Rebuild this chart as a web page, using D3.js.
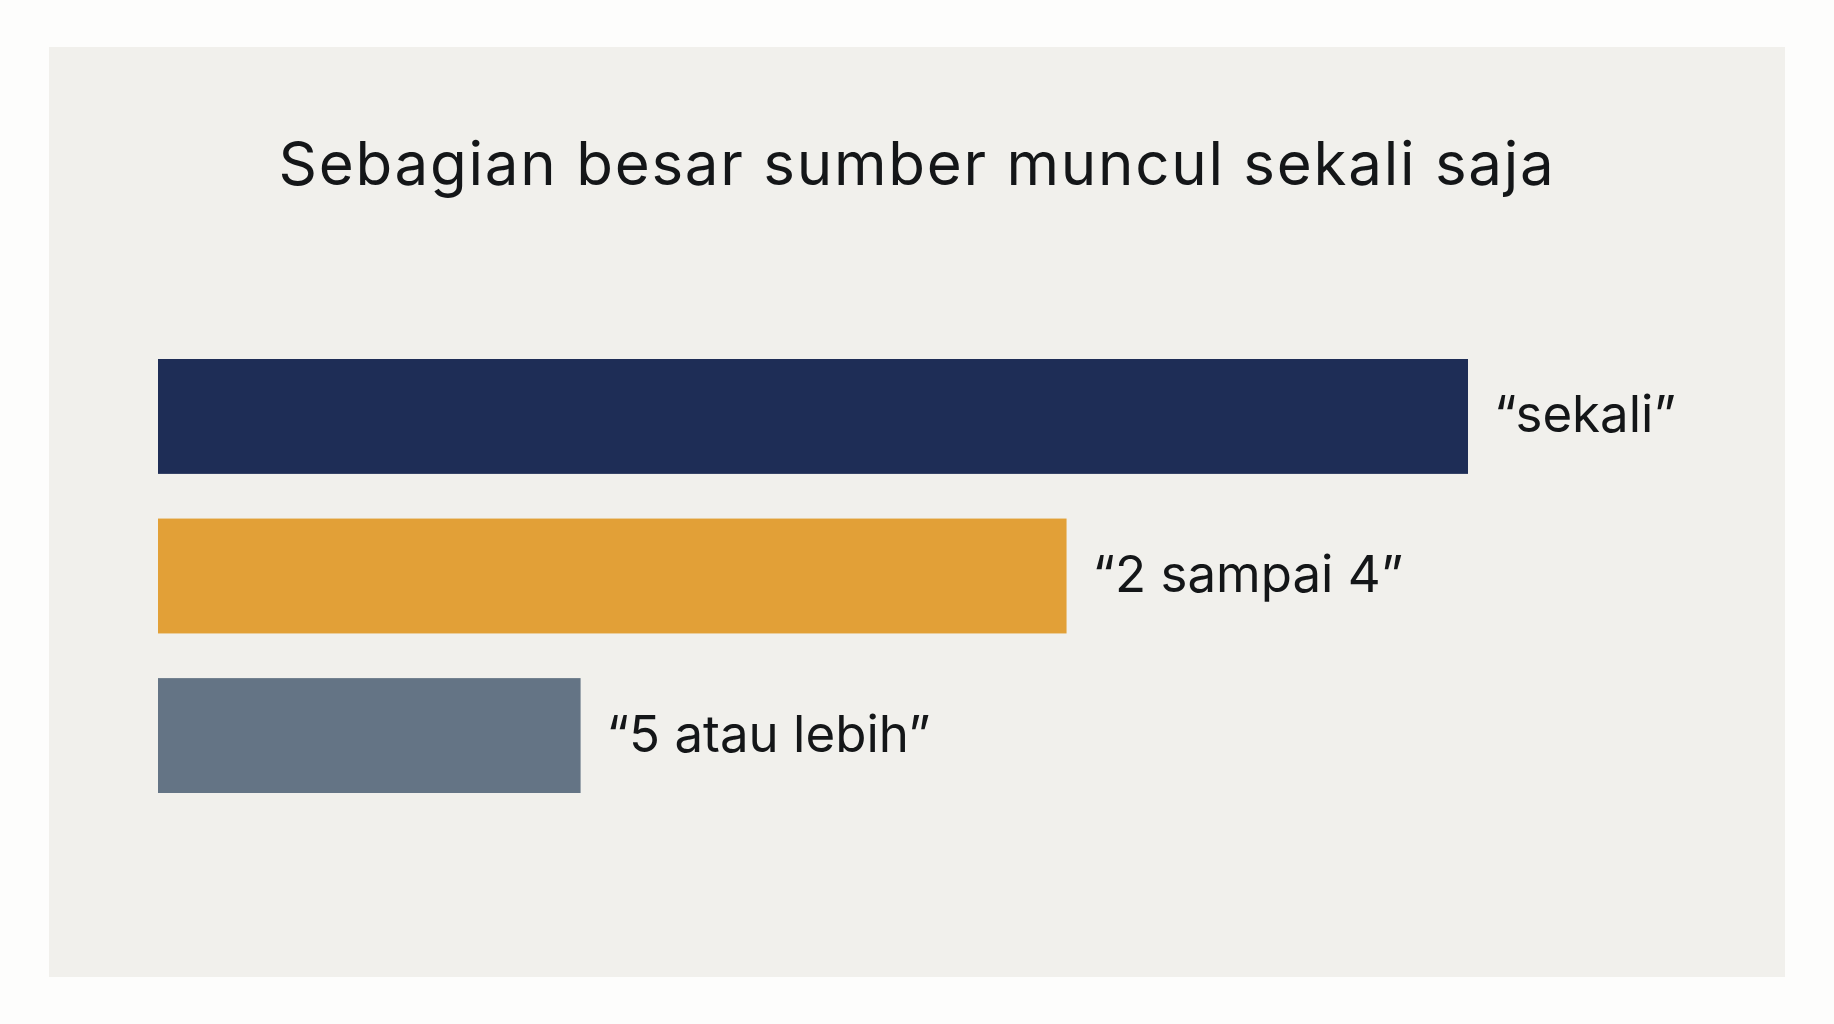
<!DOCTYPE html>
<html>
<head>
<meta charset="utf-8">
<script src="https://cdn.jsdelivr.net/npm/d3@7"></script>
<style>
  html, body { margin: 0; padding: 0; background: #fdfdfc; }
  svg { display: block; }
</style>
</head>
<body>
<div id="chart"></div>
<script>
// Data
const titleText = 'Sebagian besar sumber muncul sekali saja';
const categories = ['\u201csekali\u201d', '\u201c2 sampai 4\u201d', '\u201c5 atau lebih\u201d'];
const values = [62, 43, 20];
const colors = ['#1e2d56', '#e2a037', '#647485'];

const W = 1834, H = 1024;
const panel = { x: 49, y: 47, w: 1736, h: 930 };
const fontFamily = "Inter, 'Noto Sans', sans-serif";

const svg = d3.select('#chart').append('svg')
  .attr('width', W).attr('height', H)
  .attr('viewBox', `0 0 ${W} ${H}`);

svg.append('rect').attr('width', W).attr('height', H).attr('fill', '#fdfdfc');
svg.append('rect')
  .attr('x', panel.x).attr('y', panel.y)
  .attr('width', panel.w).attr('height', panel.h)
  .attr('fill', '#f1f0ec');

// Scales
const x = d3.scaleLinear()
  .domain([0, d3.max(values)])
  .range([158, 1468]);

const y = d3.scaleBand()
  .domain(categories)
  .range([359, 793])
  .paddingInner(0.28)
  .paddingOuter(0);

// Title
const title = svg.append('text')
  .attr('x', panel.x + panel.w / 2)
  .attr('y', 185)
  .attr('text-anchor', 'middle')
  .attr('font-family', fontFamily)
  .attr('font-size', 60)
  .attr('font-weight', 400)
  .attr('fill', '#141618')
  .text(titleText);

// stretch letter spacing so the title spans the same width as the original
const titleTarget = 1277;
const tw = title.node().getComputedTextLength();
title.attr('letter-spacing', (titleTarget - tw) / titleText.length);

// Bars
const rows = categories.map((c, i) => ({ label: c, value: values[i], color: colors[i] }));

svg.append('g').selectAll('rect')
  .data(rows)
  .join('rect')
  .attr('x', x(0))
  .attr('y', d => y(d.label))
  .attr('width', d => x(d.value) - x(0))
  .attr('height', y.bandwidth())
  .attr('fill', d => d.color);

// Labels
svg.append('g').selectAll('text')
  .data(rows)
  .join('text')
  .attr('x', d => x(d.value) + 26)
  .attr('y', d => y(d.label) + y.bandwidth() / 2 + 16)
  .attr('font-family', fontFamily)
  .attr('font-size', 51)
  .attr('font-weight', 400)
  .attr('letter-spacing', 0)
  .attr('fill', '#141618')
  .text(d => d.label);
</script>
</body>
</html>
